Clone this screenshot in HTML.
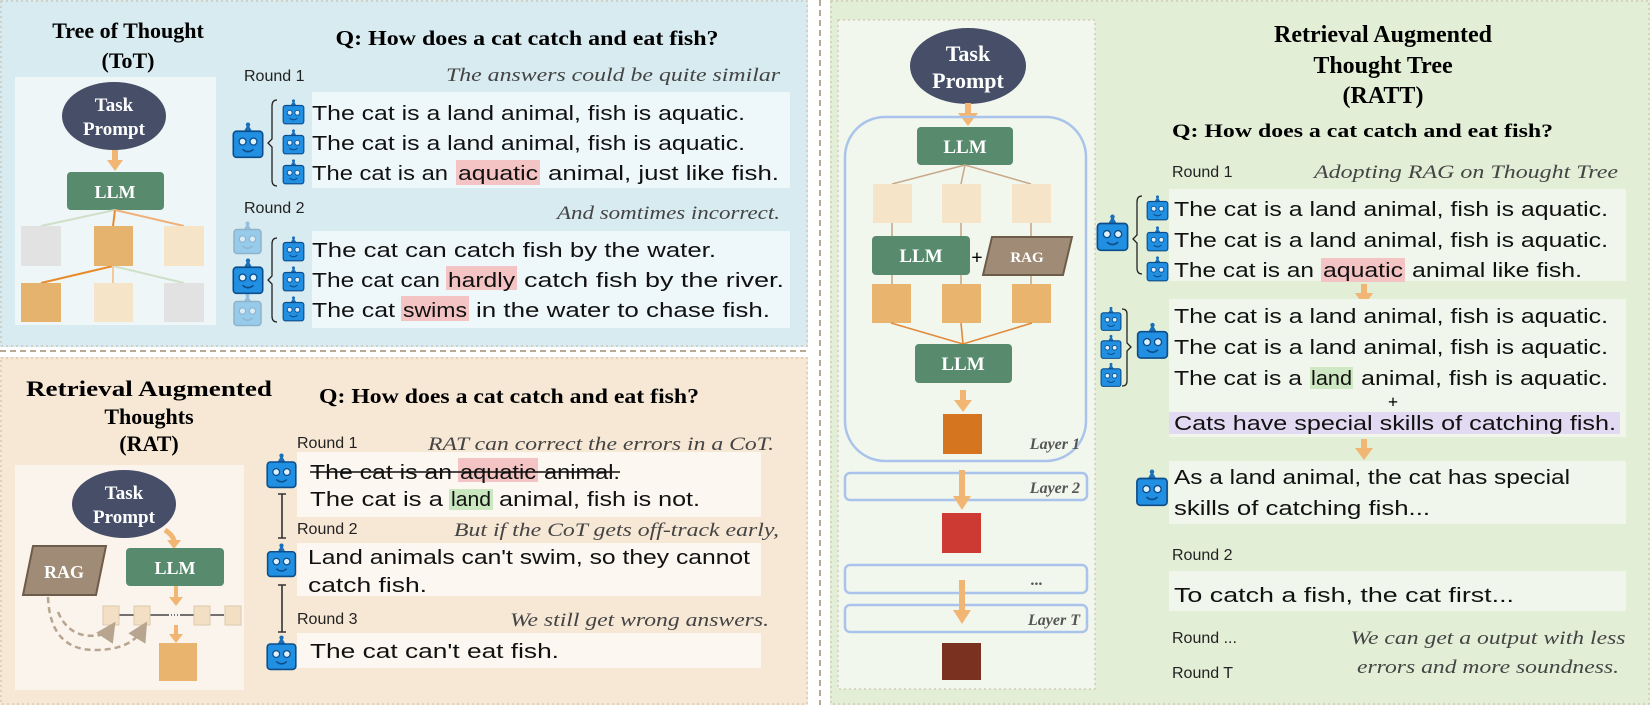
<!DOCTYPE html>
<html><head><meta charset="utf-8"><style>
html,body{margin:0;padding:0;background:#fff}
svg{display:block}
.t{font-family:"Liberation Serif",serif;font-weight:bold}
.a{font-family:"Liberation Sans",sans-serif;font-size:20px;fill:#111}
.r{font-family:"Liberation Sans",sans-serif;font-size:16px;fill:#222}
.i{font-family:"Liberation Serif",serif;font-style:italic;font-size:19px;fill:#444}
.w{font-family:"Liberation Serif",serif;font-weight:bold;fill:#fff}
.l{font-family:"Liberation Serif",serif;font-weight:bold;font-style:italic;font-size:16px;fill:#555}
</style></head><body>
<svg width="1650" height="705" viewBox="0 0 1650 705" xmlns="http://www.w3.org/2000/svg">
<defs>
<symbol id="bot" viewBox="0 0 30 34">
<polygon points="11,9 15,2 19,9" fill="#1a6fb8"/>
<circle cx="15" cy="2.5" r="2" fill="#1a6fb8"/>
<rect x="1.5" y="8.5" width="27" height="24" rx="3" fill="#2190e3" stroke="#0d4e8a" stroke-width="1.5"/>
<circle cx="10" cy="18" r="3.2" fill="#dff0ff" stroke="#0d4e8a" stroke-width="1.2"/>
<circle cx="20" cy="18" r="3.2" fill="#dff0ff" stroke="#0d4e8a" stroke-width="1.2"/>
<path d="M10 25 Q15 29.5 20 25" fill="none" stroke="#0d4e8a" stroke-width="1.5"/>
</symbol>
<marker id="dh" markerWidth="8" markerHeight="8" refX="4" refY="4" orient="auto"><path d="M0,0 L8,4 L0,8 z" fill="#b8a590"/></marker>
</defs>

<!-- TOP LEFT -->
<rect x="0" y="0" width="808" height="347" fill="#d8ebf0"/>
<rect x="1" y="1" width="806" height="345" fill="none" stroke="#c9b9a5" stroke-dasharray="2 3"/>
<rect x="15" y="77" width="201" height="248" fill="#eef6f8"/>
<text class="t" x="128" y="38" font-size="22" text-anchor="middle">Tree of Thought</text>
<text class="t" x="128" y="68" font-size="22" text-anchor="middle">(ToT)</text>
<ellipse cx="114" cy="116" rx="52" ry="34" fill="#464e68"/>
<text class="w" x="114" y="111" font-size="19" text-anchor="middle">Task</text>
<text class="w" x="114" y="135" font-size="19" text-anchor="middle">Prompt</text>
<rect x="112" y="150" width="6" height="12" fill="#f1b673"/><polygon points="107,160 123,160 115,171" fill="#f1b673"/>
<rect x="67" y="172" width="97" height="38" rx="4" fill="#588a6d"/>
<text class="w" x="115" y="198" font-size="18" text-anchor="middle">LLM</text>
<line x1="115" y1="210" x2="41" y2="226" stroke="#cfe0c8" stroke-width="2"/>
<line x1="115" y1="210" x2="113" y2="226" stroke="#e88a2a" stroke-width="2"/>
<line x1="115" y1="210" x2="184" y2="226" stroke="#f0b07a" stroke-width="2"/>
<line x1="113" y1="266" x2="41" y2="283" stroke="#e88a2a" stroke-width="2"/>
<line x1="113" y1="266" x2="113" y2="283" stroke="#f3c89a" stroke-width="2"/>
<line x1="113" y1="266" x2="184" y2="283" stroke="#cfe0c8" stroke-width="2"/>
<rect x="21" y="226" width="40" height="40" fill="#e2e2e2"/>
<rect x="94" y="226" width="39" height="40" fill="#e6b36f"/>
<rect x="164" y="226" width="40" height="40" fill="#f6e4c9"/>
<rect x="21" y="283" width="40" height="39" fill="#e6b36f"/>
<rect x="94" y="283" width="39" height="39" fill="#f6e4c9"/>
<rect x="164" y="283" width="40" height="39" fill="#e2e2e2"/>

<text class="t" x="527" y="45" font-size="21" text-anchor="middle" textLength="383" lengthAdjust="spacingAndGlyphs">Q: How does a cat catch and eat fish?</text>
<text class="r" x="244" y="81">Round 1</text>
<text class="i" x="780" y="81" text-anchor="end" textLength="334" lengthAdjust="spacingAndGlyphs">The answers could be quite similar</text>
<rect x="312" y="92" width="478" height="96" fill="#eef7f9"/>
<rect x="456" y="160" width="84" height="25" fill="#f4c3c3"/>
<text class="a" x="312" y="120" textLength="433" lengthAdjust="spacingAndGlyphs">The cat is a land animal, fish is aquatic.</text>
<text class="a" x="312" y="150" textLength="433" lengthAdjust="spacingAndGlyphs">The cat is a land animal, fish is aquatic.</text>
<text class="a" x="312" y="180" textLength="136" lengthAdjust="spacingAndGlyphs">The cat is an</text>
<text class="a" x="458" y="180" textLength="80" lengthAdjust="spacingAndGlyphs">aquatic</text>
<text class="a" x="548" y="180" textLength="231" lengthAdjust="spacingAndGlyphs">animal, just like fish.</text>
<use href="#bot" x="282" y="99" width="23" height="26"/>
<use href="#bot" x="282" y="129" width="23" height="26"/>
<use href="#bot" x="282" y="159" width="23" height="26"/>
<use href="#bot" x="231" y="122" width="34" height="37"/>
<path d="M277 100 Q272 100 272 106 L272 139 L268 143 L272 147 L272 180 Q272 186 277 186" fill="none" stroke="#222" stroke-width="1.3"/>

<text class="r" x="244" y="213">Round 2</text>
<text class="i" x="780" y="219" text-anchor="end" textLength="223" lengthAdjust="spacingAndGlyphs">And somtimes incorrect.</text>
<rect x="312" y="231" width="478" height="97" fill="#eef7f9"/>
<rect x="446" y="266" width="71" height="24" fill="#f4c3c3"/>
<rect x="401" y="296" width="68" height="25" fill="#f4c3c3"/>
<text class="a" x="312" y="257" textLength="404" lengthAdjust="spacingAndGlyphs">The cat can catch fish by the water.</text>
<text class="a" x="312" y="287" textLength="128" lengthAdjust="spacingAndGlyphs">The cat can</text>
<text class="a" x="448" y="287" textLength="67" lengthAdjust="spacingAndGlyphs">hardly</text>
<text class="a" x="524" y="287" textLength="260" lengthAdjust="spacingAndGlyphs">catch fish by the river.</text>
<text class="a" x="312" y="317" textLength="83" lengthAdjust="spacingAndGlyphs">The cat</text>
<text class="a" x="403" y="317" textLength="64" lengthAdjust="spacingAndGlyphs">swims</text>
<text class="a" x="476" y="317" textLength="294" lengthAdjust="spacingAndGlyphs">in the water to chase fish.</text>
<use href="#bot" x="282" y="236" width="23" height="26"/>
<use href="#bot" x="282" y="266" width="23" height="26"/>
<use href="#bot" x="282" y="296" width="23" height="26"/>
<use href="#bot" x="231" y="221" width="33" height="34" opacity="0.35"/>
<use href="#bot" x="231" y="258" width="34" height="37"/>
<use href="#bot" x="231" y="293" width="33" height="34" opacity="0.35"/>
<path d="M277 238 Q272 238 272 244 L272 276 L268 280 L272 284 L272 316 Q272 322 277 322" fill="none" stroke="#222" stroke-width="1.3"/>

<line x1="0" y1="351" x2="810" y2="351" stroke="#b8a995" stroke-width="2" stroke-dasharray="6 4"/>

<!-- BOTTOM LEFT -->
<rect x="0" y="357" width="808" height="348" fill="#f7e8d6"/>
<rect x="1" y="358" width="806" height="346" fill="none" stroke="#c9b9a5" stroke-dasharray="2 3"/>
<rect x="15" y="465" width="229" height="225" fill="#fbf4ec"/>
<text class="t" x="149" y="396" font-size="22" text-anchor="middle" textLength="246" lengthAdjust="spacingAndGlyphs">Retrieval Augmented</text>
<text class="t" x="149" y="424" font-size="22" text-anchor="middle">Thoughts</text>
<text class="t" x="149" y="451" font-size="22" text-anchor="middle">(RAT)</text>
<text class="t" x="509" y="403" font-size="21" text-anchor="middle" textLength="380" lengthAdjust="spacingAndGlyphs">Q: How does a cat catch and eat fish?</text>
<ellipse cx="124" cy="504" rx="52" ry="34" fill="#464e68"/>
<text class="w" x="124" y="499" font-size="19" text-anchor="middle">Task</text>
<text class="w" x="124" y="523" font-size="19" text-anchor="middle">Prompt</text>
<path d="M165 530 Q174 536 174 542" fill="none" stroke="#f1b673" stroke-width="5"/><polygon points="167,540 181,540 174,549" fill="#f1b673"/>
<polygon points="33,546 106,546 96,595 23,595" fill="#a08c76" stroke="#6e5c4a" stroke-width="2"/>
<text class="w" x="64" y="578" font-size="18" text-anchor="middle">RAG</text>
<rect x="126" y="548" width="98" height="38" rx="4" fill="#588a6d"/>
<text class="w" x="175" y="574" font-size="18" text-anchor="middle">LLM</text>
<rect x="174" y="586" width="4" height="12" fill="#f1b673"/><polygon points="169,597 183,597 176,606" fill="#f1b673"/>
<line x1="118" y1="615" x2="134" y2="615" stroke="#444" stroke-width="1.5"/>
<line x1="150" y1="615" x2="168" y2="615" stroke="#444" stroke-width="1.5"/>
<line x1="168" y1="615" x2="180" y2="615" stroke="#444" stroke-width="1.5" stroke-dasharray="1 2"/>
<line x1="180" y1="615" x2="194" y2="615" stroke="#444" stroke-width="1.5"/>
<line x1="209" y1="615" x2="224" y2="615" stroke="#444" stroke-width="1.5"/>
<rect x="103" y="606" width="16" height="19" fill="#f3dfc3" stroke="#dcc8ac"/>
<rect x="134" y="606" width="16" height="19" fill="#f3dfc3" stroke="#dcc8ac"/>
<rect x="194" y="606" width="16" height="19" fill="#f3dfc3" stroke="#dcc8ac"/>
<rect x="225" y="606" width="16" height="19" fill="#f3dfc3" stroke="#dcc8ac"/>
<rect x="174" y="625" width="4" height="10" fill="#f1b673"/><polygon points="169,634 183,634 176,643" fill="#f1b673"/>
<rect x="159" y="643" width="38" height="38" fill="#e8b46e"/>
<path d="M48 597 Q50 650 95 650 Q130 650 142 630" fill="none" stroke="#b8a590" stroke-width="2.5" stroke-dasharray="6 4" marker-end="url(#dh)"/>
<path d="M58 612 Q70 640 100 635 Q108 633 110 630" fill="none" stroke="#b8a590" stroke-width="2.5" stroke-dasharray="6 4" marker-end="url(#dh)"/>

<text class="r" x="297" y="448">Round 1</text>
<text class="i" x="774" y="450" text-anchor="end" textLength="346" lengthAdjust="spacingAndGlyphs">RAT can correct the errors in a CoT.</text>
<rect x="297" y="452" width="464" height="65" fill="#fcf7f1"/>
<rect x="458" y="458" width="80" height="24" fill="#f4c3c3"/>
<rect x="449" y="489" width="44" height="21" fill="#c9e8c0"/>
<text class="a" x="310" y="479" textLength="142" lengthAdjust="spacingAndGlyphs">The cat is an</text>
<text class="a" x="460" y="479" textLength="76" lengthAdjust="spacingAndGlyphs">aquatic</text>
<text class="a" x="544" y="479" textLength="76" lengthAdjust="spacingAndGlyphs">animal.</text>
<line x1="310" y1="472" x2="620" y2="472" stroke="#111" stroke-width="1.6"/>
<text class="a" x="310" y="506" textLength="133" lengthAdjust="spacingAndGlyphs">The cat is a</text>
<text class="a" x="451" y="506" textLength="40" lengthAdjust="spacingAndGlyphs">land</text>
<text class="a" x="499" y="506" textLength="201" lengthAdjust="spacingAndGlyphs">animal, fish is not.</text>
<use href="#bot" x="265" y="453" width="33" height="36"/>
<path d="M278 494 H286 M282 494 V538 M278 538 H286" stroke="#333" stroke-width="1.6" fill="none"/>
<text class="r" x="297" y="534">Round 2</text>
<text class="i" x="779" y="536" text-anchor="end" textLength="325" lengthAdjust="spacingAndGlyphs">But if the CoT gets off-track early,</text>
<rect x="297" y="543" width="464" height="53" fill="#fcf7f1"/>
<text class="a" x="308" y="564" textLength="442" lengthAdjust="spacingAndGlyphs">Land animals can't swim, so they cannot</text>
<text class="a" x="308" y="592" textLength="119" lengthAdjust="spacingAndGlyphs">catch fish.</text>
<use href="#bot" x="265" y="543" width="33" height="35"/>
<path d="M278 585 H286 M282 585 V632 M278 632 H286" stroke="#333" stroke-width="1.6" fill="none"/>
<text class="r" x="297" y="624">Round 3</text>
<text class="i" x="769" y="626" text-anchor="end" textLength="259" lengthAdjust="spacingAndGlyphs">We still get wrong answers.</text>
<rect x="297" y="633" width="464" height="35" fill="#fcf7f1"/>
<text class="a" x="310" y="658" textLength="249" lengthAdjust="spacingAndGlyphs">The cat can't eat fish.</text>
<use href="#bot" x="265" y="635" width="33" height="36"/>

<line x1="820" y1="0" x2="820" y2="705" stroke="#b8a995" stroke-width="2" stroke-dasharray="6 4"/>

<!-- RIGHT -->
<rect x="830" y="0" width="820" height="705" fill="#e3eed7"/>
<rect x="831" y="1" width="818" height="703" fill="none" stroke="#c9b9a5" stroke-dasharray="2 3"/>
<rect x="838" y="20" width="257" height="669" fill="#f2f7ee" stroke="#c9b9a5" stroke-dasharray="2 3"/>
<ellipse cx="968" cy="66" rx="58" ry="38" fill="#464e68"/>
<text class="w" x="968" y="61" font-size="22" text-anchor="middle">Task</text>
<text class="w" x="968" y="88" font-size="22" text-anchor="middle">Prompt</text>
<rect x="965" y="103" width="6" height="12" fill="#f1b673"/><polygon points="958,113 978,113 968,126" fill="#f1b673"/>
<rect x="845" y="117" width="241" height="344" rx="40" fill="none" stroke="#a9c3ea" stroke-width="2.5"/>
<rect x="917" y="127" width="96" height="38" rx="4" fill="#588a6d"/>
<text class="w" x="965" y="153" font-size="19" text-anchor="middle">LLM</text>
<g stroke="#c8a98a" stroke-width="1.6">
<line x1="965" y1="165" x2="892" y2="184"/><line x1="965" y1="165" x2="961" y2="184"/><line x1="965" y1="165" x2="1031" y2="184"/>
<line x1="892" y1="223" x2="892" y2="236"/><line x1="961" y1="223" x2="961" y2="236"/><line x1="1031" y1="223" x2="1031" y2="237"/>
<line x1="892" y1="275" x2="892" y2="284"/><line x1="961" y1="275" x2="961" y2="284"/><line x1="1031" y1="275" x2="1031" y2="284"/>
</g>
<rect x="873" y="184" width="39" height="39" fill="#f6e4c9"/>
<rect x="942" y="184" width="39" height="39" fill="#f6e4c9"/>
<rect x="1012" y="184" width="39" height="39" fill="#f6e4c9"/>
<rect x="872" y="236" width="98" height="39" rx="4" fill="#588a6d"/>
<text class="w" x="921" y="262" font-size="19" text-anchor="middle">LLM</text>
<text class="t" x="977" y="264" font-size="20" text-anchor="middle">+</text>
<polygon points="992,237 1072,237 1063,275 983,275" fill="#a08c76" stroke="#6e5c4a" stroke-width="2"/>
<text class="w" x="1027" y="262" font-size="15" text-anchor="middle">RAG</text>
<rect x="872" y="284" width="39" height="39" fill="#e8b46e"/>
<rect x="942" y="284" width="39" height="39" fill="#e8b46e"/>
<rect x="1012" y="284" width="39" height="39" fill="#e8b46e"/>
<g stroke="#e08a3a" stroke-width="1.6"><line x1="891" y1="323" x2="963" y2="344"/><line x1="961" y1="323" x2="963" y2="344"/><line x1="1032" y1="323" x2="963" y2="344"/></g>
<rect x="915" y="344" width="97" height="39" rx="4" fill="#588a6d"/>
<text class="w" x="963" y="370" font-size="19" text-anchor="middle">LLM</text>
<rect x="960" y="390" width="6" height="12" fill="#f1b673"/><polygon points="954,400 972,400 963,412" fill="#f1b673"/>
<rect x="943" y="414" width="39" height="40" fill="#d67520"/>
<text class="l" x="1080" y="449" text-anchor="end">Layer 1</text>
<rect x="845" y="473" width="242" height="27" rx="5" fill="none" stroke="#a9c3ea" stroke-width="2.5"/>
<text class="l" x="1080" y="493" text-anchor="end">Layer 2</text>
<rect x="959" y="470" width="6" height="28" fill="#f1b673"/><polygon points="953,496 971,496 962,510" fill="#f1b673"/>
<rect x="942" y="513" width="39" height="40" fill="#cc3a33"/>
<rect x="845" y="565" width="242" height="28" rx="5" fill="none" stroke="#a9c3ea" stroke-width="2.5"/>
<text class="l" x="1037" y="585" text-anchor="middle">...</text>
<rect x="845" y="605" width="242" height="27" rx="5" fill="none" stroke="#a9c3ea" stroke-width="2.5"/>
<text class="l" x="1080" y="625" text-anchor="end">Layer T</text>
<rect x="959" y="580" width="6" height="32" fill="#f1b673"/><polygon points="953,610 971,610 962,624" fill="#f1b673"/>
<rect x="942" y="643" width="39" height="37" fill="#7b3120"/>

<text class="t" x="1383" y="42" font-size="24" text-anchor="middle">Retrieval Augmented</text>
<text class="t" x="1383" y="73" font-size="24" text-anchor="middle">Thought Tree</text>
<text class="t" x="1383" y="103" font-size="24" text-anchor="middle">(RATT)</text>
<text class="t" x="1172" y="137" font-size="19" textLength="381" lengthAdjust="spacingAndGlyphs">Q: How does a cat catch and eat fish?</text>
<text class="r" x="1172" y="177">Round 1</text>
<text class="i" x="1314" y="178" textLength="304" lengthAdjust="spacingAndGlyphs">Adopting RAG on Thought Tree</text>
<rect x="1169" y="189" width="457" height="92" fill="#f0f6ec"/>
<rect x="1321" y="258" width="84" height="24" fill="#f4c3c3"/>
<text class="a" x="1174" y="216" textLength="434" lengthAdjust="spacingAndGlyphs">The cat is a land animal, fish is aquatic.</text>
<text class="a" x="1174" y="247" textLength="434" lengthAdjust="spacingAndGlyphs">The cat is a land animal, fish is aquatic.</text>
<text class="a" x="1174" y="277" textLength="140" lengthAdjust="spacingAndGlyphs">The cat is an</text>
<text class="a" x="1323" y="277" textLength="80" lengthAdjust="spacingAndGlyphs">aquatic</text>
<text class="a" x="1412" y="277" textLength="170" lengthAdjust="spacingAndGlyphs">animal like fish.</text>
<use href="#bot" x="1146" y="195" width="23" height="26"/>
<use href="#bot" x="1146" y="226" width="23" height="26"/>
<use href="#bot" x="1146" y="256" width="23" height="26"/>
<use href="#bot" x="1095" y="214" width="35" height="38"/>
<path d="M1142 196 Q1137 196 1137 202 L1137 235 L1133 239 L1137 243 L1137 268 Q1137 274 1142 274" fill="none" stroke="#222" stroke-width="1.3"/>
<rect x="1361" y="284" width="6" height="10" fill="#f1b673"/><polygon points="1355,293 1373,293 1364,306" fill="#f1b673"/>
<rect x="1169" y="299" width="457" height="138" fill="#f0f6ec"/>
<rect x="1310" y="367" width="43" height="22" fill="#cfe8c4"/>
<text class="a" x="1174" y="323" textLength="434" lengthAdjust="spacingAndGlyphs">The cat is a land animal, fish is aquatic.</text>
<text class="a" x="1174" y="354" textLength="434" lengthAdjust="spacingAndGlyphs">The cat is a land animal, fish is aquatic.</text>
<text class="a" x="1174" y="385" textLength="128" lengthAdjust="spacingAndGlyphs">The cat is a</text>
<text class="a" x="1311" y="385" textLength="41" lengthAdjust="spacingAndGlyphs">land</text>
<text class="a" x="1361" y="385" textLength="247" lengthAdjust="spacingAndGlyphs">animal, fish is aquatic.</text>
<text class="t" x="1393" y="408" font-size="18" text-anchor="middle">+</text>
<rect x="1169" y="412" width="451" height="22" fill="#e1daf2"/>
<text class="a" x="1174" y="430" textLength="442" lengthAdjust="spacingAndGlyphs">Cats have special skills of catching fish.</text>
<use href="#bot" x="1100" y="306" width="22" height="26"/>
<use href="#bot" x="1100" y="334" width="22" height="26"/>
<use href="#bot" x="1100" y="362" width="22" height="26"/>
<path d="M1122 309 Q1127 309 1127 314 L1127 343 L1131 347 L1127 351 L1127 381 Q1127 386 1122 386" fill="none" stroke="#222" stroke-width="1.3"/>
<use href="#bot" x="1136" y="322" width="33" height="38"/>
<rect x="1361" y="439" width="6" height="10" fill="#f1b673"/><polygon points="1355,448 1373,448 1364,460" fill="#f1b673"/>
<rect x="1169" y="461" width="457" height="63" fill="#f0f6ec"/>
<text class="a" x="1174" y="484" textLength="396" lengthAdjust="spacingAndGlyphs">As a land animal, the cat has special</text>
<text class="a" x="1174" y="515" textLength="256" lengthAdjust="spacingAndGlyphs">skills of catching fish...</text>
<use href="#bot" x="1135" y="469" width="34" height="38"/>
<text class="r" x="1172" y="560">Round 2</text>
<rect x="1169" y="571" width="457" height="40" fill="#f0f6ec"/>
<text class="a" x="1174" y="602" textLength="340" lengthAdjust="spacingAndGlyphs">To catch a fish, the cat first...</text>
<text class="r" x="1172" y="643">Round ...</text>
<text class="r" x="1172" y="678">Round T</text>
<text class="i" x="1488" y="644" text-anchor="middle" textLength="275" lengthAdjust="spacingAndGlyphs">We can get a output with less</text>
<text class="i" x="1488" y="673" text-anchor="middle" textLength="262" lengthAdjust="spacingAndGlyphs">errors and more soundness.</text>
</svg>
</body></html>
